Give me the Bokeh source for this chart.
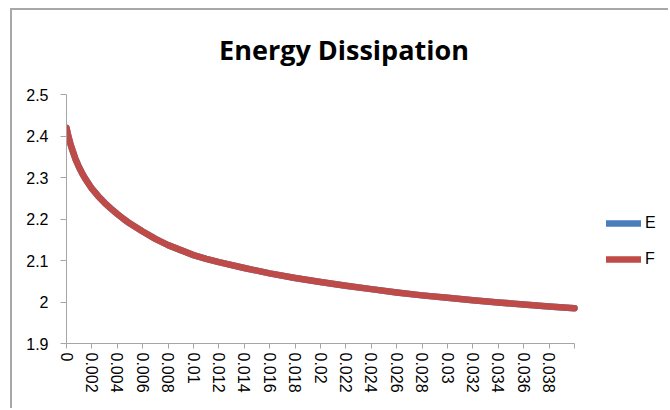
from bokeh.plotting import figure
from bokeh.models import Range1d, FixedTicker, Legend, LegendItem, Label
from bokeh.embed import file_html
from bokeh.resources import INLINE

# ---- data ----
x_values = [0, 0.0001, 0.0002, 0.0003, 0.0004, 0.0005, 0.0007, 0.001, 0.0012, 0.0015,
            0.002, 0.0025, 0.003, 0.0035, 0.004, 0.0045, 0.005, 0.006, 0.007, 0.008,
            0.009, 0.01, 0.011, 0.012, 0.014, 0.016, 0.018, 0.02, 0.022, 0.024,
            0.026, 0.028, 0.03, 0.032, 0.034, 0.036, 0.038, 0.04]
series_E = [2.42, 2.405, 2.393, 2.382, 2.372, 2.363, 2.345, 2.324, 2.312, 2.296,
            2.273, 2.255, 2.239, 2.225, 2.212, 2.200, 2.189, 2.170, 2.152, 2.137,
            2.125, 2.113, 2.104, 2.096, 2.082, 2.069, 2.058, 2.048, 2.039, 2.031,
            2.023, 2.016, 2.010, 2.004, 1.999, 1.994, 1.989, 1.985]
series_F = [2.42, 2.405, 2.393, 2.382, 2.372, 2.363, 2.345, 2.324, 2.312, 2.296,
            2.273, 2.255, 2.239, 2.225, 2.212, 2.200, 2.189, 2.170, 2.152, 2.137,
            2.125, 2.113, 2.104, 2.096, 2.082, 2.069, 2.058, 2.048, 2.039, 2.031,
            2.023, 2.016, 2.010, 2.004, 1.999, 1.994, 1.989, 1.985]
x_tick_labels = ["0", "0.002", "0.004", "0.006", "0.008", "0.01", "0.012", "0.014",
                 "0.016", "0.018", "0.02", "0.022", "0.024", "0.026", "0.028", "0.03",
                 "0.032", "0.034", "0.036", "0.038", ""]
x_tick_values = [0, 0.002, 0.004, 0.006, 0.008, 0.01, 0.012, 0.014, 0.016, 0.018,
                 0.02, 0.022, 0.024, 0.026, 0.028, 0.03, 0.032, 0.034, 0.036, 0.038, 0.04]
y_tick_labels = ["1.9", "2", "2.1", "2.2", "2.3", "2.4", "2.5"]
y_tick_values = [1.9, 2.0, 2.1, 2.2, 2.3, 2.4, 2.5]
series_names = ["E", "F"]
title_text = "Energy Dissipation"

TICK_FONT = "Liberation Sans"
AXIS_GRAY = "#a6a6a6"

# layout (pixels of the canvas)
W, H = 658, 400
LEFT, BOTTOM = 54, 67
AXIS_X_PX = 508                    # pixel length of the x axis (0 .. 0.04)
AXIS_Y_PX = 249                    # pixel length of the y axis (1.9 .. 2.5)
TITLE_CX, TITLE_BASE = 331.5, 39   # title centre / baseline in canvas pixels
X_MIN, X_MAX = x_tick_values[0], x_tick_values[-1]
Y_MIN, Y_MAX = y_tick_values[0], y_tick_values[-1]
FRAME_W = W - LEFT                 # frame fills the canvas to the right and top,
FRAME_H = H - BOTTOM               # axes are bounded to the data extent
x_per_px = (X_MAX - X_MIN) / AXIS_X_PX
y_per_px = (Y_MAX - Y_MIN) / AXIS_Y_PX

p = figure(width=W, height=H, output_backend="svg", toolbar_location=None,
           x_range=Range1d(X_MIN, X_MIN + FRAME_W * x_per_px),
           y_range=Range1d(Y_MIN, Y_MIN + FRAME_H * y_per_px),
           min_border_left=LEFT, min_border_right=0, min_border_top=0, min_border_bottom=BOTTOM)
p.styles = {"margin-left": "10px", "margin-top": "8px",
            "border-left": "2px solid #a8a8a8", "border-top": "2px solid #a8a8a8"}

p.add_layout(Label(x=X_MIN + (TITLE_CX - LEFT) * x_per_px,
                   y=Y_MIN + (FRAME_H - TITLE_BASE) * y_per_px,
                   text=title_text, text_align="center", text_baseline="alphabetic",
                   text_font="Open Sans", text_font_style="bold", text_font_size="27px",
                   text_color="#000000"))

p.outline_line_color = None
p.xgrid.visible = False
p.ygrid.visible = False
p.background_fill_color = "white"
p.border_fill_color = "white"

p.xaxis.ticker = FixedTicker(ticks=x_tick_values)
p.xaxis.bounds = (X_MIN, X_MAX)
p.xaxis.major_label_overrides = {v: s for v, s in zip(x_tick_values, x_tick_labels)}
p.xaxis.major_label_orientation = "vertical"
p.xaxis.major_label_standoff = 4
p.xaxis.major_tick_out = 5
p.xaxis.major_tick_in = 0
p.xaxis.minor_tick_line_color = None

p.yaxis.ticker = FixedTicker(ticks=y_tick_values)
p.yaxis.bounds = (Y_MIN, Y_MAX)
p.yaxis.major_label_overrides = {v: s for v, s in zip(y_tick_values, y_tick_labels)}
p.yaxis.major_label_standoff = 12
p.yaxis.major_tick_out = 6
p.yaxis.major_tick_in = 0
p.yaxis.minor_tick_line_color = None

for ax in (p.xaxis[0], p.yaxis[0]):
    ax.axis_line_color = AXIS_GRAY
    ax.major_tick_line_color = AXIS_GRAY
    ax.major_label_text_font = TICK_FONT
    ax.major_label_text_font_size = "16px"
    ax.major_label_text_color = "#000000"

rE = p.line(x_values, series_E, line_color="#4a7ebb", line_width=6.5, line_cap="round", line_join="round")
rF = p.line(x_values, series_F, line_color="#be4b48", line_width=6.5, line_cap="round", line_join="round")

legend = Legend(items=[LegendItem(label=series_names[0], renderers=[rE]),
                       LegendItem(label=series_names[1], renderers=[rF])],
                location=(540, 74), padding=0, margin=0, spacing=16,
                glyph_width=35, glyph_height=20, label_standoff=4,
                label_text_font=TICK_FONT, label_text_font_size="16px",
                label_text_color="#000000",
                border_line_color=None, background_fill_alpha=0)
p.add_layout(legend, "center")

open("out.html", "w").write(file_html(p, INLINE))
